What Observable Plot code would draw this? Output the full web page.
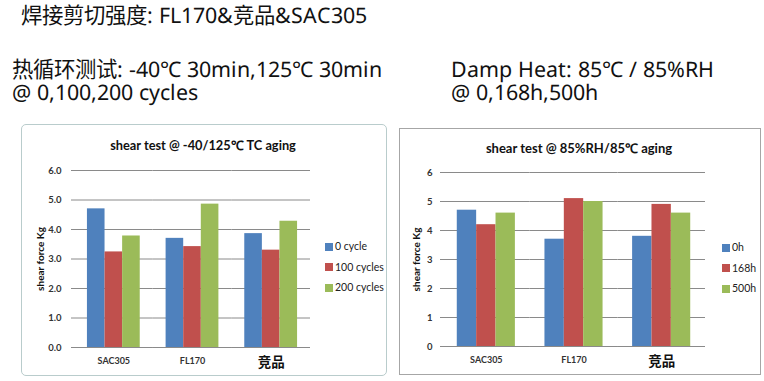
<!DOCTYPE html>
<html><head><meta charset="utf-8">
<script src="https://cdn.jsdelivr.net/npm/d3@7"></script>
<script src="https://cdn.jsdelivr.net/npm/@observablehq/plot@0.6"></script>
<style>
@font-face{font-family:"LatinTight";src:local("Noto Sans"),local("Noto Sans Regular"),local("NotoSans-Regular");ascent-override:85%;descent-override:15%;line-gap-override:0%;}
@font-face{font-family:"CJKTight";src:local("Noto Sans CJK SC"),local("Noto Sans CJK SC Regular"),local("NotoSansCJKsc-Regular"),local("NotoSansCJKSC-Regular");ascent-override:85%;descent-override:15%;line-gap-override:0%;}
body{margin:0;background:#fff;width:764px;height:381px;position:relative;overflow:hidden;font-family:"LatinTight","CJKTight","Noto Sans","Noto Sans CJK SC",sans-serif;}
.t{position:absolute;white-space:nowrap;color:#111;font-size:21.4px;line-height:23px;}
.panel{position:absolute;box-sizing:border-box;background:#fff;}
.ctitle{position:absolute;width:300px;text-align:center;font-family:Lato,sans-serif;font-weight:bold;line-height:16px;color:#111;white-space:nowrap;}
.chart{position:absolute;}
.leg{position:absolute;font-family:Lato,sans-serif;font-size:10.5px;line-height:12px;color:#222;white-space:nowrap;}
.leg span.sw{display:inline-block;width:8px;height:8px;margin-right:2px;vertical-align:-0.5px;}
</style></head><body>
<div class="t" style="left:21px;top:4px;">焊接剪切强度: FL170&amp;竞品&amp;SAC305</div>
<div class="t" style="left:12px;top:58px;">热循环测试: -40℃ 30min,125℃ 30min</div>
<div class="t" style="left:12px;top:81px;">@ 0,100,200 cycles</div>
<div class="t" style="left:451px;top:58px;">Damp Heat: 85℃ / 85%RH</div>
<div class="t" style="left:451px;top:81px;">@ 0,168h,500h</div>
<div class="panel" style="left:21px;top:124px;width:366px;height:252px;border:1px solid #b9cccc;border-radius:5px;"></div>
<div class="panel" style="left:399px;top:128px;width:362px;height:247px;border:1px solid #a6a6a6;"></div>
<script>
const categories = ["SAC305", "FL170", "竞品"];
const colors = ["#4F81BD", "#C0504D", "#9BBB59"];

// Thermal cycling chart
const tcTitle = "shear test @ -40/125℃ TC aging";
const tcSeries = ["0 cycle", "100 cycles", "200 cycles"];
const tc0 = [4.70, 3.70, 3.86];
const tc100 = [3.24, 3.42, 3.30];
const tc200 = [3.78, 4.86, 4.28];
const tcTicks = [0, 1, 2, 3, 4, 5, 6];

// Damp heat chart
const dhTitle = "shear test @ 85%RH/85℃ aging";
const dhSeries = ["0h", "168h", "500h"];
const dh0 = [4.7, 3.7, 3.8];
const dh168 = [4.2, 5.1, 4.9];
const dh500 = [4.6, 5.0, 4.6];
const dhTicks = [0, 1, 2, 3, 4, 5, 6];

const yLabel = "shear force Kg";

function rows(series, valueLists) {
  const out = [];
  categories.forEach((c, i) => series.forEach((s, j) => out.push({cat: c, series: s, value: valueLists[j][i]})));
  return out;
}

function makeChart(cfg) {
  const data = rows(cfg.series, cfg.values);
  const chart = Plot.plot({
    width: cfg.width, height: cfg.height,
    marginLeft: cfg.ml, marginRight: cfg.mr, marginTop: cfg.mt, marginBottom: cfg.mb,
    style: {fontFamily: "Lato, sans-serif", fontSize: "9.5px", color: "#333", background: "transparent", overflow: "visible"},
    fx: {domain: categories, padding: 0, round: false, label: null, axis: null},
    x: {domain: cfg.series, paddingInner: 0, paddingOuter: cfg.po, round: false, axis: null},
    y: {domain: [0, 6], label: null},
    color: {domain: cfg.series, range: colors},
    marks: [
      Plot.gridY(cfg.ticks, {stroke: "#8a8a8a", strokeOpacity: 1, strokeWidth: 1}),
      Plot.barY(data, {fx: "cat", x: "series", y: "value", fill: "series", inset: 0}),
      Plot.ruleY([0], {stroke: "#8a8a8a", strokeWidth: 1}),
      Plot.axisY(cfg.ticks, {tickFormat: cfg.fmt, tickSize: cfg.ts, tickPadding: cfg.tp, stroke: "#8a8a8a", fill: "#333", fontWeight: "bold", fontSize: 9.5, line: true,
        label: yLabel, labelAnchor: "center", labelArrow: "none", labelOffset: cfg.lo}),
      Plot.axisFx({anchor: "bottom", tickSize: 0, tickPadding: 10, fontWeight: "bold", fontSize: 9, fill: "#333", label: null})
    ]
  });
  chart.classList.add("chart");
  chart.style.left = cfg.left + "px";
  chart.style.top = cfg.top + "px";
  d3.select(chart).selectAll("text").filter(function() { return this.textContent === yLabel; })
    .style("font-weight", "bold").style("font-size", "10px").style("fill", "#111");
  d3.select(chart).selectAll("text").filter(function() { return this.textContent === "竞品"; })
    .style("font-size", "13.5px").style("fill", "#111").style("font-family", "'Noto Sans CJK SC', sans-serif");
  document.body.appendChild(chart);

  const t = document.createElement("div");
  t.className = "ctitle";
  t.textContent = cfg.title;
  t.style.fontSize = cfg.tfs + "px";
  t.style.left = (cfg.tx - 150) + "px";
  t.style.top = (cfg.ty - 8) + "px";
  document.body.appendChild(t);

  const cs = chart.scale("color");
  cfg.series.forEach((s, i) => {
    const d = document.createElement("div");
    d.className = "leg";
    d.style.left = cfg.lx + "px";
    d.style.top = (cfg.ly + i * cfg.lstep - 6) + "px";
    const sw = document.createElement("span");
    sw.className = "sw";
    sw.style.background = cs.apply(s);
    d.appendChild(sw);
    d.appendChild(document.createTextNode(s));
    document.body.appendChild(d);
  });
}

makeChart({series: tcSeries, values: [tc0, tc100, tc200], ticks: tcTicks, fmt: d3.format(".1f"), title: tcTitle,
  left: 21, top: 160, width: 300, height: 215, ml: 53, mr: 11, mt: 10, mb: 28,
  po: 0.735, ts: 3, tp: 10, lo: 38,
  tx: 203, ty: 145, tfs: 12.8, lx: 325, ly: 246, lstep: 20.5});

makeChart({series: dhSeries, values: [dh0, dh168, dh500], ticks: dhTicks, fmt: d3.format("d"), title: dhTitle,
  left: 399, top: 162, width: 330, height: 212, ml: 43, mr: 24, mt: 10, mb: 28,
  po: 0.763, ts: 2, tp: 8, lo: 30,
  tx: 579, ty: 147.5, tfs: 13, lx: 722, ly: 247, lstep: 20.5});
</script>
</body></html>
